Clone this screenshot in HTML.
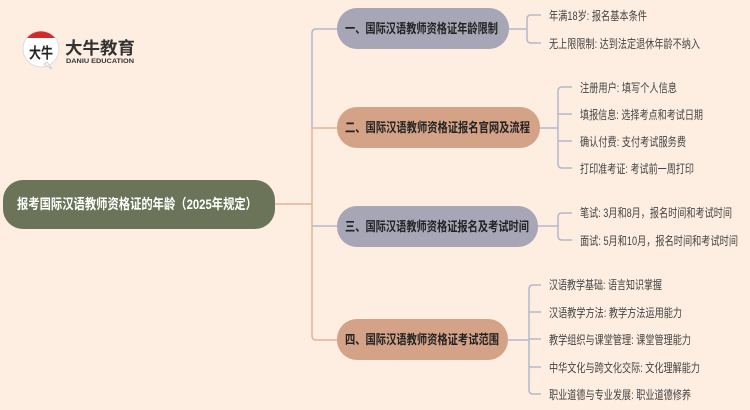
<!DOCTYPE html>
<html><head><meta charset="utf-8"><style>
html,body{margin:0;padding:0;background:#fdeee1;}
svg{display:block;font-family:"Liberation Sans","Noto Sans CJK SC",sans-serif;}
.n{font-size:13px;font-weight:bold;fill:#222;}
.l{font-size:12px;fill:#444;}
</style></head><body>
<svg width="750" height="410" viewBox="0 0 750 410">
<rect width="750" height="410" fill="#fdeee1"/>
<!-- logo -->
<circle cx="41" cy="49" r="18" fill="#fff" stroke="#ddd"/>
<path d="M27 38 A18 18 0 0 1 55 38 Z" fill="#d9262b"/>
<path d="M44 64 L52 69 L47 62 Z" fill="#fff" stroke="#ccc"/>
<text x="29" y="58" font-size="15" font-weight="bold" fill="#222" textLength="24" lengthAdjust="spacingAndGlyphs">大牛</text>
<text x="65" y="54" font-size="17" font-weight="bold" fill="#333" textLength="70" lengthAdjust="spacingAndGlyphs">大牛教育</text>
<text x="66" y="63" font-size="6" font-weight="bold" fill="#333" textLength="68" lengthAdjust="spacingAndGlyphs">DANIU EDUCATION</text>
<!-- connectors -->
<g fill="none" stroke-width="1.5">
<path d="M275 204 H312" stroke="#e3b39b"/>
<path d="M337 29 H316 Q312 29 312 33 V128" stroke="#b5b7c9"/>
<path d="M312 128 V336 Q312 340 316 340 H337" stroke="#e3b39b"/>
<path d="M312 128 H337" stroke="#e3b39b"/>
<path d="M312 226 H337" stroke="#b5b7c9"/>
<g stroke="#b5b7c9">
<path d="M509 29 H527 M541 15 H531 Q527 15 527 19 V39 Q527 43 531 43 H541"/>
<path d="M540 128 H558 M572 87 H562 Q558 87 558 91 V164 Q558 168 562 168 H572 M558 114 H572 M558 141 H572"/>
<path d="M538 226 H558 M572 213 H562 Q558 213 558 217 V236 Q558 240 562 240 H572"/>
<path d="M508 340 H529 M541 285 H533 Q529 285 529 289 V390 Q529 394 533 394 H541 M529 312 H541 M529 339 H541 M529 367 H541"/>
</g>
</g>
<!-- root -->
<rect x="3" y="180" width="272" height="49" rx="20" fill="#6b7458"/>
<text x="17" y="209" font-size="14" font-weight="bold" fill="#fff" textLength="240" lengthAdjust="spacingAndGlyphs">报考国际汉语教师资格证的年龄（2025年规定）</text>
<!-- nodes -->
<rect x="337" y="8" width="172" height="41" rx="20" fill="#a6a6b6"/>
<text x="345" y="33" class="n" textLength="153" lengthAdjust="spacingAndGlyphs">一、国际汉语教师资格证年龄限制</text>
<rect x="337" y="107" width="203" height="41" rx="20" fill="#d4a387"/>
<text x="345" y="132" class="n" textLength="185" lengthAdjust="spacingAndGlyphs">二、国际汉语教师资格证报名官网及流程</text>
<rect x="337" y="206" width="201" height="41" rx="20" fill="#a6a6b6"/>
<text x="345" y="231" class="n" textLength="184" lengthAdjust="spacingAndGlyphs">三、国际汉语教师资格证报名及考试时间</text>
<rect x="337" y="319" width="171" height="41" rx="20" fill="#d4a387"/>
<text x="345" y="344" class="n" textLength="154" lengthAdjust="spacingAndGlyphs">四、国际汉语教师资格证考试范围</text>
<!-- leaves -->
<g class="l">
<text x="549" y="20" textLength="98" lengthAdjust="spacingAndGlyphs">年满18岁: 报名基本条件</text>
<text x="549" y="48" textLength="151" lengthAdjust="spacingAndGlyphs">无上限限制: 达到法定退休年龄不纳入</text>
<text x="580" y="92" textLength="97" lengthAdjust="spacingAndGlyphs">注册用户: 填写个人信息</text>
<text x="580" y="119" textLength="123" lengthAdjust="spacingAndGlyphs">填报信息: 选择考点和考试日期</text>
<text x="580" y="146" textLength="106" lengthAdjust="spacingAndGlyphs">确认付费: 支付考试服务费</text>
<text x="580" y="173" textLength="114" lengthAdjust="spacingAndGlyphs">打印准考证: 考试前一周打印</text>
<text x="580" y="217" textLength="152" lengthAdjust="spacingAndGlyphs">笔试: 3月和8月，报名时间和考试时间</text>
<text x="580" y="245" textLength="158" lengthAdjust="spacingAndGlyphs">面试: 5月和10月，报名时间和考试时间</text>
<text x="549" y="289" textLength="113" lengthAdjust="spacingAndGlyphs">汉语教学基础: 语言知识掌握</text>
<text x="549" y="317" textLength="133" lengthAdjust="spacingAndGlyphs">汉语教学方法: 教学方法运用能力</text>
<text x="549" y="344" textLength="142" lengthAdjust="spacingAndGlyphs">教学组织与课堂管理: 课堂管理能力</text>
<text x="549" y="372" textLength="151" lengthAdjust="spacingAndGlyphs">中华文化与跨文化交际: 文化理解能力</text>
<text x="549" y="399" textLength="142" lengthAdjust="spacingAndGlyphs">职业道德与专业发展: 职业道德修养</text>
</g>
</svg>
</body></html>
